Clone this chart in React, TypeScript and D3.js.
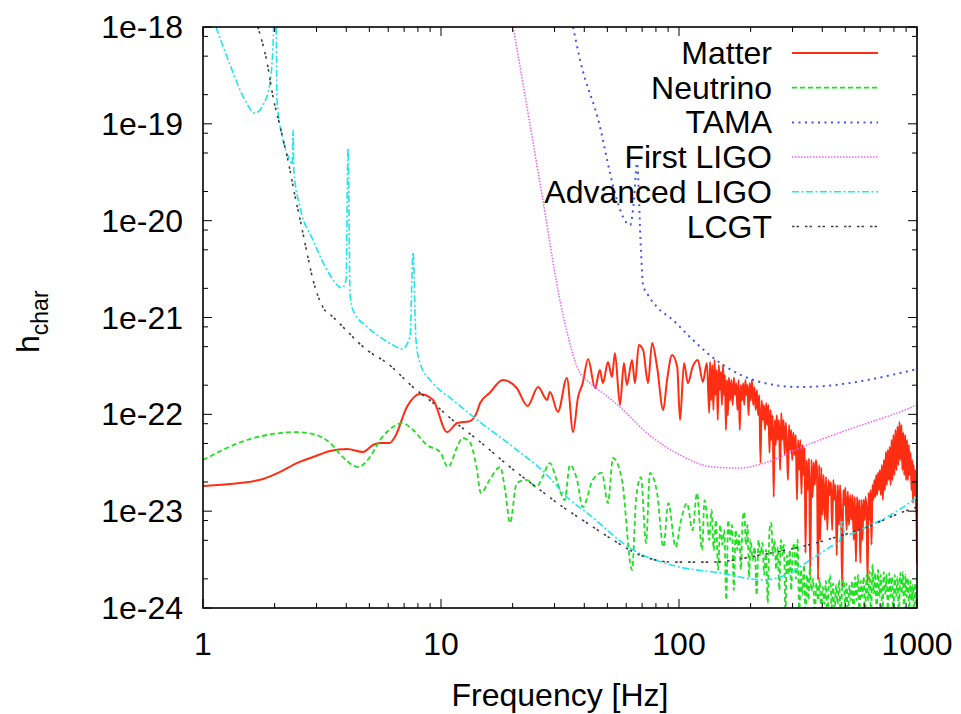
import React from "react";
import * as d3 from "d3";

type Pt = [number, number];

// ---------- data (frequency [Hz], h_char) ----------
const matter: Pt[] = [
  [1, 1.82e-23], [1.43, 1.95e-23], [1.79, 2.15e-23], [2.11, 2.54e-23], [2.48, 3.14e-23], [2.9, 3.62e-23],
  [3.42, 4.18e-23], [4.03, 4.38e-23], [4.7, 4.08e-23], [5.18, 4.82e-23], [5.54, 5.06e-23], [6.09, 5.06e-23],
  [6.4, 5.83e-23], [7.19, 1.19e-22], [8.16, 1.62e-22], [9.26, 1.41e-22], [10.6, 6.56e-23], [11.7, 8.13e-23],
  [13.2, 8.5e-23], [14.1, 1.03e-22], [14.6, 1.31e-22], [16.0, 1.66e-22], [18.2, 2.26e-22], [20.8, 1.87e-22],
  [23.1, 1.22e-22], [25.6, 1.91e-22], [27.9, 1.41e-22], [28.7, 1.7e-22], [31.0, 1.06e-22], [33.8, 2.37e-22],
  [35.9, 6.56e-23], [37.6, 1.48e-22], [39.4, 2.1e-22], [41.5, 3.72e-22], [44.4, 1.87e-22], [46.5, 2.87e-22],
  [47.9, 2.1e-22], [50.3, 3.47e-22], [52.3, 2.43e-22], [53.8, 4.3e-22], [56.5, 1.25e-22], [58.7, 3.39e-22],
  [60.4, 2.01e-22], [63.5, 3.64e-22], [65.3, 2.1e-22], [67.8, 5.2e-22], [70.7, 4.6e-22], [74.1, 2.1e-22],
  [77.1, 5.46e-22], [80.9, 3.08e-22], [85.8, 1.11e-22], [89.1, 2.26e-22], [93.5, 4.1e-22], [98.3, 3.08e-22],
  [101, 8.73e-23], [105, 3.39e-22], [109, 2.1e-22], [114, 3.08e-22], [120, 3.64e-22], [126, 2.16e-22],
  [131, 3.39e-22], [134, 1.03e-22],
  [135, 3.47e-22], [136.5, 1.4e-22], [138, 3.23e-22], [139.5, 1.11e-22], [141, 3.64e-22], [142.5, 1.58e-22],
  [144, 2.87e-22], [145.5, 8.74e-23], [147, 3.23e-22], [148.5, 1.78e-22], [150, 2.75e-22], [151.5, 1.25e-22],
  [153, 3.23e-22], [154.5, 1.58e-22], [156, 2.55e-22], [157.5, 6.89e-23], [159, 2.26e-22], [160.5, 9.8e-23],
  [162, 2.4e-22], [164, 1.4e-22], [166, 2.26e-22], [168, 1.25e-22], [170, 2.4e-22], [172, 1.58e-22],
  [174, 2.1e-22], [176, 1.11e-22], [178, 2.26e-22], [180, 6.89e-23], [182, 2.01e-22], [184, 1.4e-22],
  [186, 2.1e-22], [188, 1.25e-22], [190, 2.26e-22], [192, 1.58e-22], [194, 2.01e-22], [196, 9.8e-23],
  [198, 2.1e-22], [200, 1.4e-22], [202.5, 2.26e-22], [205, 1.25e-22], [207.5, 1.9e-22], [210, 1.11e-22],
  [212.5, 1.78e-22], [215, 9.8e-23], [217.5, 1.58e-22], [220, 3.15e-23], [222.5, 1.4e-22], [225, 8.74e-23],
  [227.5, 1.25e-22], [230, 6.89e-23], [232.5, 1.31e-22], [235, 7.78e-23], [237.5, 1.25e-22], [240, 4.0e-23],
  [242.5, 1.11e-22], [245, 5.44e-23], [247.5, 9.8e-23], [250, 1.4e-23], [252.5, 8.74e-23], [255, 4.83e-23],
  [257.5, 9.8e-23], [260, 5.44e-23], [263, 8.74e-23], [266, 2.66e-23], [269, 1.03e-22], [272, 5.44e-23],
  [275, 8.74e-23], [278, 3.81e-23], [281, 8.2e-23], [284, 4.83e-23], [287, 2.1e-23], [290, 7.78e-23],
  [293, 4.28e-23], [296, 6.89e-23], [299, 3.38e-23], [302.5, 6.5e-23], [306, 3.81e-23], [309.5, 6.12e-23],
  [313, 1.31e-23], [316.5, 5.44e-23], [320, 2.66e-23], [323.5, 5.44e-23], [327, 1.5e-23], [330.5, 4.83e-23],
  [334, 2.36e-23], [337.5, 4.5e-23], [340, 3.7e-24], [344, 3.38e-23], [348, 1.65e-23], [352, 3.5e-23],
  [356, 2.2e-24], [360, 3.38e-23], [364, 1.4e-23], [368, 3.2e-23], [372, 1.86e-23], [376, 3.38e-23],
  [380, 2.66e-23], [384, 1.95e-24], [388, 3.0e-23], [392, 5.0e-24], [396, 2.8e-23], [400, 9.14e-24],
  [405, 2.36e-23], [410, 8.1e-24], [415, 2.25e-23], [420, 6.38e-24], [425, 2.1e-23], [430, 1.47e-23],
  [435, 2.0e-23], [440, 6.38e-24], [445, 2.1e-23], [450, 1.31e-23], [455, 1.86e-23], [460, 3.5e-24],
  [465, 1.86e-23], [470, 7.2e-24], [475, 1.86e-23], [480, 9.14e-24], [485, 1.65e-24], [490, 1.65e-23],
  [495, 1.16e-23], [500, 1.75e-23], [506, 6.38e-24], [512, 1.6e-23], [518, 7.2e-24], [524, 1.47e-23],
  [530, 8.1e-24], [536, 1.47e-23], [542, 5.04e-24], [548, 1.4e-23], [554, 3.0e-24], [560, 1.4e-23],
  [566, 6.38e-24], [572, 1.31e-23], [578, 2.92e-24], [584, 1.31e-23], [590, 5.04e-24], [596, 1.31e-23],
  [602, 8.1e-24], [608, 1.4e-23], [614, 1.03e-23], [620, 1.81e-24], [626, 1.55e-23], [632, 8.1e-24],
  [638, 1.65e-23], [644, 4.5e-24], [650, 1.86e-23], [656, 1.31e-23], [662, 2.1e-23], [668, 1.4e-23],
  [674, 2.36e-23], [680, 1.47e-23], [686, 2.5e-23], [692, 1.65e-23], [698, 2.66e-23], [705, 1.47e-23],
  [712, 3.0e-23], [719, 1.31e-23], [726, 3.38e-23], [733, 1.65e-23], [740, 4.09e-23], [747, 1.86e-23],
  [754, 4.28e-23], [761, 2.1e-23], [768, 4.6e-23], [775, 1.86e-23], [782, 5.44e-23], [789, 2.1e-23],
  [796, 6.12e-23], [804, 2.36e-23], [812, 6.89e-23], [820, 2.66e-23], [828, 7.5e-23], [836, 3.0e-23],
  [844, 8.35e-23], [852, 3.38e-23], [860, 7.78e-23], [868, 2.66e-23], [876, 6.5e-23], [884, 2.36e-23],
  [892, 6.12e-23], [900, 2.1e-23], [908, 5.44e-23], [916, 2.1e-23], [924, 4.83e-23], [932, 2.36e-23],
  [940, 4.0e-23], [948, 1.65e-23], [956, 3.38e-23], [962, 1.22e-23], [968, 3.0e-23], [975, 1.47e-23],
  [982, 2.66e-23], [990, 1.16e-23], [996, 8.1e-24], [1000, 2.92e-24],
];

const neutrino: Pt[] = [
  [1, 3.37e-23], [1.53, 5.43e-23], [2.11, 6.41e-23], [2.39, 6.56e-23], [2.9, 6.26e-23], [3.42, 5.06e-23],
  [3.87, 3.62e-23], [4.48, 2.86e-23], [5.03, 3.62e-23], [5.54, 5.43e-23], [6.28, 7.39e-23], [6.86, 8.13e-23],
  [7.63, 6.89e-23], [8.73, 4.82e-23], [9.91, 4.08e-23], [10.7, 2.86e-23], [11.7, 4.6e-23], [12.3, 5.7e-23],
  [13.2, 5.18e-23], [14.1, 2.86e-23], [14.7, 1.54e-23], [16.0, 2.1e-23], [17.7, 2.86e-23], [18.6, 1.65e-23],
  [19.5, 7.55e-24], [20.8, 1.95e-23], [22.9, 2.1e-23], [25.2, 1.78e-23], [26.7, 2.25e-23], [28.7, 3.14e-23],
  [30.6, 2.1e-23], [33.1, 1.3e-23], [34.8, 3.0e-23], [37.3, 2.1e-23], [39.4, 1.1e-23], [43.4, 2.1e-23],
  [47.4, 2.48e-23], [50.3, 1.21e-23], [52.8, 3.54e-23], [57.6, 2.1e-23], [63.5, 2.47e-24], [66.1, 1.4e-23],
  [69.2, 2.25e-23], [72.7, 4.69e-24], [75.5, 2.48e-23], [80.9, 1.54e-23], [86.0, 4.26e-24], [90.2, 1.21e-23],
  [96.8, 4.26e-24], [102, 8.1e-24], [108, 1.21e-23], [114, 6.38e-24], [119, 1.54e-23], [125, 3.97e-24],
  [128, 1.3e-23], [131, 9.14e-24], [134, 5.04e-24], [137, 1.03e-23], [140, 3.97e-24], [143, 8.1e-24],
  [146, 2.47e-24], [149, 7.2e-24], [152, 4.5e-24], [155, 6.38e-24], [158, 1.21e-24], [161, 8.1e-24],
  [164, 5.04e-24], [167, 7.2e-24], [170, 1.53e-24], [173, 6.38e-24], [176, 3.97e-24], [179, 5.7e-24],
  [182, 2.5e-24], [185, 8.1e-24], [188, 9.8e-24], [191, 4.5e-24], [194, 7.2e-24], [197, 2.09e-24],
  [200, 5.04e-24], [204, 3.13e-24], [208, 4.26e-24], [212, 1.36e-24], [216, 5.04e-24], [220, 3.5e-24],
  [224, 4.69e-24], [228, 2.2e-24], [232, 4.0e-24], [236, 1.12e-24], [240, 6.38e-24], [244, 7.55e-24],
  [248, 3.5e-24], [252, 5.04e-24], [256, 2.5e-24], [260, 4.26e-24], [264, 1.53e-24], [268, 5.04e-24],
  [272, 3.5e-24], [276, 4.5e-24], [280, 8e-25], [284, 3.5e-24], [288, 2.2e-24], [292, 3.97e-24],
  [296, 1.53e-24], [300, 3.5e-24], [305, 4.69e-24], [310, 2.0e-24], [315, 5.04e-24], [320, 8e-25],
  [325, 2.5e-24], [330, 1.36e-24], [335, 2.78e-24], [340, 8e-25], [345, 2.2e-24], [350, 1.21e-24],
  [355, 2.65e-24], [360, 1.5e-24], [366, 2.0e-24], [372, 8e-25], [378, 1.81e-24], [384, 1.2e-24],
  [390, 2.0e-24], [396, 8e-25], [402, 1.65e-24], [408, 1.1e-24], [414, 1.9e-24], [420, 8e-25],
  [426, 1.7e-24], [432, 2.19e-24], [438, 1.0e-24], [444, 1.8e-24], [450, 8e-25], [457, 1.73e-24],
  [464, 1.1e-24], [471, 1.95e-24], [478, 8e-25], [485, 1.6e-24], [492, 2.0e-24], [499, 1.0e-24],
  [506, 1.8e-24], [513, 8e-25], [520, 1.7e-24], [527, 1.2e-24], [534, 1.9e-24], [541, 8e-25],
  [549, 2.09e-24], [557, 1.2e-24], [565, 2.2e-24], [573, 8e-25], [581, 1.9e-24], [589, 1.3e-24],
  [597, 2.1e-24], [605, 8e-25], [614, 2.2e-24], [623, 1.2e-24], [632, 2.4e-24], [641, 8e-25],
  [650, 2.78e-24], [659, 1.4e-24], [668, 2.3e-24], [677, 8e-25], [686, 2.47e-24], [695, 1.3e-24],
  [705, 2.2e-24], [715, 8e-25], [725, 2.36e-24], [735, 1.4e-24], [745, 2.2e-24], [755, 8e-25],
  [765, 2.3e-24], [775, 1.3e-24], [785, 2.1e-24], [795, 8e-25], [806, 2.2e-24], [817, 1.3e-24],
  [828, 2.09e-24], [839, 8e-25], [850, 2.3e-24], [861, 1.4e-24], [872, 2.36e-24], [883, 8e-25],
  [894, 2.2e-24], [905, 1.3e-24], [916, 2.04e-24], [927, 8e-25], [938, 1.9e-24], [949, 1.2e-24],
  [960, 1.73e-24], [971, 8e-25], [982, 1.8e-24], [991, 1.1e-24], [1000, 1.4e-24],
];

const tama: Pt[] = [
  [35.9, 1e-18], [38.4, 4.56e-19], [46.6, 9.27e-20], [51.3, 3.1e-20], [54.9, 1.63e-20], [58.2, 1.09e-20],
  [62.3, 9.0e-21], [64.7, 1.63e-20], [66.6, 3.94e-20], [69.2, 5.0e-21], [70.6, 2.17e-21], [74.1, 1.71e-21],
  [80.9, 1.28e-21], [94.4, 9.4e-22], [111, 6.3e-22], [149, 3.39e-22], [219, 2.16e-22], [322, 1.91e-22],
  [444, 2.0e-22], [617, 2.26e-22], [849, 2.67e-22], [1000, 2.94e-22],
];

const firstLigo: Pt[] = [
  [20.1, 1e-18], [21.5, 3.86e-19], [26.8, 1.63e-20], [31.6, 1.51e-21], [34.5, 5.86e-22], [37.3, 3.08e-22],
  [42.3, 2.1e-22], [47.9, 1.66e-22], [56.5, 1.19e-22], [73.4, 6.4e-23], [101, 3.8e-23], [139, 2.86e-23],
  [180, 2.79e-23], [234, 3.2e-23], [322, 4.5e-23], [444, 6.1e-23], [617, 8.1e-23], [849, 1.06e-22],
  [1000, 1.25e-22],
];

const advancedLigo: Pt[] = [
  [1.134, 1e-18], [1.3, 4.05e-19], [1.5, 1.76e-19], [1.654, 1.29e-19], [1.787, 1.56e-19], [1.912, 2.64e-19],
  [1.975, 8e-19], [2.0, 3e-18], [2.03, 1e-18], [2.046, 1.76e-19], [2.17, 6.8e-20], [2.32, 4.2e-20],
  [2.37, 3.8e-20], [2.39, 8.6e-20], [2.41, 3.2e-20], [2.556, 1.38e-20], [2.9, 6.3e-21], [3.32, 3.09e-21],
  [3.84, 2.02e-21], [3.99, 2.44e-21], [4.07, 5.6e-20], [4.15, 1.71e-21], [4.27, 1.19e-21], [4.89, 8.0e-22],
  [5.54, 6.3e-22], [6.28, 5.2e-22], [6.86, 4.73e-22], [7.41, 6.3e-22], [7.63, 4.74e-21], [7.85, 5.9e-22],
  [8.16, 3.39e-22], [9.26, 2.1e-22], [11.2, 1.41e-22], [14.6, 8.3e-23], [20.1, 4.6e-23], [27.9, 2.36e-23],
  [33.8, 1.4e-23], [41.1, 9.6e-24], [64.1, 3.98e-24], [94.4, 2.75e-24], [149, 2.3e-24], [225, 1.95e-24],
  [293, 2.3e-24], [355, 3.13e-24], [431, 4.26e-24], [475, 5.0e-24], [484, 8.1e-24], [498, 5.7e-24],
  [617, 6.9e-24], [748, 8.7e-24], [962, 1.3e-23], [1000, 1.4e-23],
];

const lcgt: Pt[] = [
  [1.7, 1e-18], [1.86, 4.25e-19], [1.97, 1.89e-19], [2.11, 9.3e-20], [2.32, 3.33e-20], [2.44, 1.75e-20],
  [2.56, 1.02e-20], [2.71, 5.2e-21], [2.9, 2.44e-21], [3.19, 1.28e-21], [3.52, 1.01e-21], [3.87, 8.0e-22],
  [4.89, 4.6e-22], [5.93, 3.39e-22], [7.63, 1.91e-22], [9.26, 1.31e-22], [11.2, 8.7e-23], [14.6, 5.2e-23],
  [19.5, 2.86e-23], [26.1, 1.65e-23], [32.6, 1.1e-23], [41.1, 7.55e-24], [52.8, 5.04e-24], [68.6, 3.52e-24],
  [94.4, 2.98e-24], [139, 2.98e-24], [219, 3.52e-24], [322, 4.26e-24], [444, 5.28e-24], [617, 6.86e-24],
  [849, 9.57e-24], [1000, 1.1e-23],
];

const seriesNames = ["Matter", "Neutrino", "TAMA", "First LIGO", "Advanced LIGO", "LCGT"];
const seriesData = [matter, neutrino, tama, firstLigo, advancedLigo, lcgt];

const xDomain = [1, 1000];
const yDomain = [1e-24, 1e-18];
const xTickValues = [1, 10, 100, 1000];
const xTickLabels = ["1", "10", "100", "1000"];
const xMinorMantissas = [2, 3, 4, 5, 6, 7, 8, 9];
const yTickValues = [1e-18, 1e-19, 1e-20, 1e-21, 1e-22, 1e-23, 1e-24];
const yTickLabels = ["1e-18", "1e-19", "1e-20", "1e-21", "1e-22", "1e-23", "1e-24"];
const yMinorMantissas = [2, 5, 8];
const xAxisTitle = "Frequency [Hz]";
const yAxisTitleMain = "h";
const yAxisTitleSub = "char";

// ---------- styles ----------
const styles = [
  { color: "#ff2d12", dash: "", width: 2 },
  { color: "#22e022", dash: "5,3", width: 1.8 },
  { color: "#4455ee", dash: "2,4.5", width: 2 },
  { color: "#f060f0", dash: "1.5,1.5", width: 1.5 },
  { color: "#1ee6ee", dash: "7,2.5,2,2.5", width: 1.6 },
  { color: "#404040", dash: "2.5,2,2.5,6", width: 1.6 },
];

const FONT = "'Liberation Sans', Arial, Helvetica, sans-serif";

export default function App() {
  const W = 961, H = 714;
  const L = 203, R = 917, T = 27, B = 608;
  const x = d3.scaleLog().domain(xDomain).range([L, R]);
  const y = d3.scaleLog().domain(yDomain).range([B, T]);
  const line = d3
    .line<Pt>()
    .x((d) => x(d[0]))
    .y((d) => y(d[1]))
    .curve(d3.curveMonotoneX);

  const majorLen = 9, minorLen = 5;
  const xMinor: number[] = [];
  [1, 10, 100].forEach((dec) => xMinorMantissas.forEach((m) => xMinor.push(dec * m)));
  const yMinor: number[] = [];
  [1e-24, 1e-23, 1e-22, 1e-21, 1e-20, 1e-19].forEach((dec) =>
    yMinorMantissas.forEach((m) => yMinor.push(dec * m))
  );

  const legendX1 = 792, legendX2 = 878, legendTextX = 772, legendY0 = 53, legendDy = 34.7;

  return (
    <div style={{ position: "absolute", left: 0, top: 0, width: W, height: H, background: "#fff" }}>
      <svg width={W} height={H} style={{ display: "block" }} fontFamily={FONT}>
        <rect x={0} y={0} width={W} height={H} fill="#fff" />
        <defs>
          <clipPath id="plotClip">
            <rect x={L} y={T} width={R - L} height={B - T} />
          </clipPath>
        </defs>

        {/* series */}
        <g clipPath="url(#plotClip)">
          {seriesData.map((d, i) => (
            <path
              key={seriesNames[i]}
              d={line(d) || ""}
              fill="none"
              stroke={styles[i].color}
              strokeWidth={styles[i].width}
              strokeDasharray={styles[i].dash || undefined}
              strokeLinejoin="round"
            />
          ))}
        </g>

        {/* ticks */}
        <g stroke="#000" strokeWidth={1}>
          {xTickValues.map((v) => (
            <g key={"xM" + v}>
              <line x1={x(v)} x2={x(v)} y1={B} y2={B - majorLen} />
              <line x1={x(v)} x2={x(v)} y1={T} y2={T + majorLen} />
            </g>
          ))}
          {xMinor.map((v) => (
            <g key={"xm" + v}>
              <line x1={x(v)} x2={x(v)} y1={B} y2={B - minorLen} />
              <line x1={x(v)} x2={x(v)} y1={T} y2={T + minorLen} />
            </g>
          ))}
          {yTickValues.map((v) => (
            <g key={"yM" + v}>
              <line x1={L} x2={L + majorLen} y1={y(v)} y2={y(v)} />
              <line x1={R} x2={R - majorLen} y1={y(v)} y2={y(v)} />
            </g>
          ))}
          {yMinor.map((v) => (
            <g key={"ym" + v}>
              <line x1={L} x2={L + minorLen} y1={y(v)} y2={y(v)} />
              <line x1={R} x2={R - minorLen} y1={y(v)} y2={y(v)} />
            </g>
          ))}
        </g>

        {/* border */}
        <rect x={L} y={T} width={R - L} height={B - T} fill="none" stroke="#000" strokeWidth={1.6} />

        {/* tick labels */}
        <g fontSize={32} fill="#000">
          {xTickValues.map((v, i) => (
            <text key={"xl" + v} x={x(v)} y={655} textAnchor="middle">
              {xTickLabels[i]}
            </text>
          ))}
          {yTickValues.map((v, i) => (
            <text key={"yl" + v} x={183} y={y(v) + 11} textAnchor="end">
              {yTickLabels[i]}
            </text>
          ))}
        </g>

        {/* axis titles */}
        <text x={(L + R) / 2} y={706} textAnchor="middle" fontSize={32} fill="#000">
          {xAxisTitle}
        </text>
        <text transform="translate(39,353) rotate(-90)" fontSize={32} fill="#000">
          {yAxisTitleMain}
          <tspan fontSize={23} dy={9}>
            {yAxisTitleSub}
          </tspan>
        </text>

        {/* legend */}
        {seriesNames.map((name, i) => {
          const ly = legendY0 + i * legendDy;
          return (
            <g key={"lg" + name}>
              <text x={legendTextX} y={ly + 11} textAnchor="end" fontSize={32} fill="#000">
                {name}
              </text>
              <line
                x1={legendX1}
                x2={legendX2}
                y1={ly}
                y2={ly}
                stroke={styles[i].color}
                strokeWidth={styles[i].width}
                strokeDasharray={styles[i].dash || undefined}
              />
            </g>
          );
        })}
      </svg>
    </div>
  );
}
